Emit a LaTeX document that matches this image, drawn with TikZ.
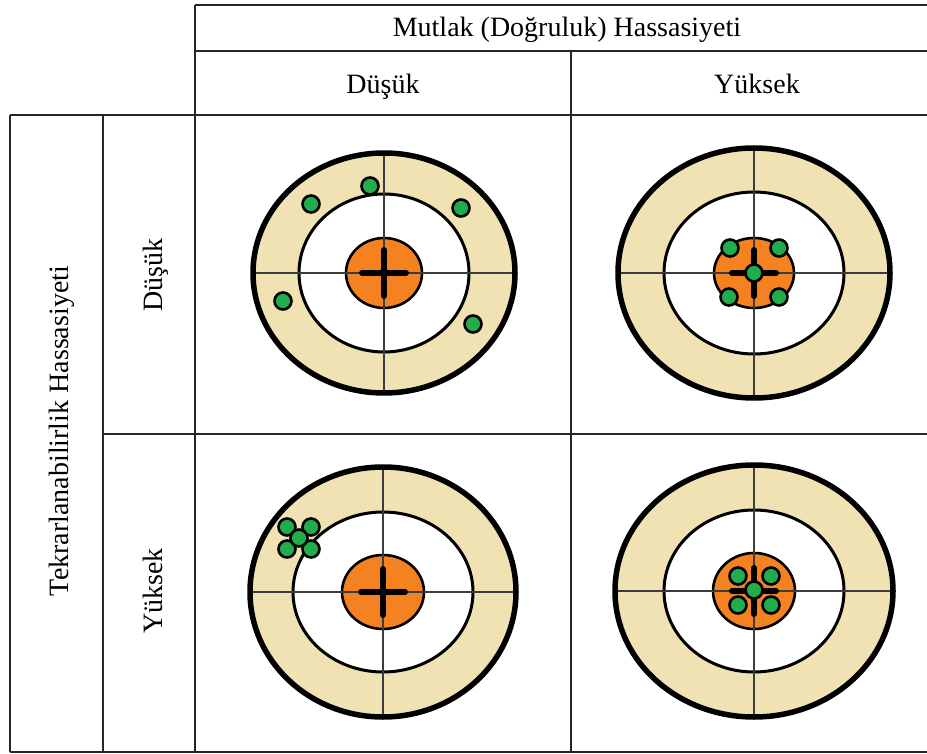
\documentclass[tikz,border=0pt]{standalone}
\usepackage{fontspec}
\setmainfont{Liberation Serif}
\definecolor{ringbeige}{RGB}{240,226,178}
\definecolor{bullorange}{RGB}{245,130,32}
\definecolor{hitgreen}{RGB}{34,172,76}
\definecolor{hairgray}{RGB}{60,60,60}
\tikzset{
  grid line/.style={line width=1.6pt, draw=black!85},
  lbl/.style={font=\fontsize{28}{33}\selectfont, inner sep=0pt, anchor=base},
  outerring/.style={fill=ringbeige, draw=black, line width=5pt},
  innerring/.style={fill=white, draw=black, line width=3pt},
  bull/.style={fill=bullorange, draw=black, line width=2.6pt},
  hair/.style={draw=hairgray, line width=1.5pt},
  crossbar/.style={draw=black, line width=6pt, line cap=round},
  hit/.style={fill=hitgreen, draw=black, line width=2.6pt}
}
\newcommand\tgt[8]{%
  \fill[ringbeige] (#1,#2) ellipse [x radius=#3, y radius=#4];
  \draw[innerring] (#1,#2) ellipse [x radius=#5, y radius=#6];
  \draw[bull] (#1,#2) ellipse [x radius=#7, y radius=#8];
  \draw[hair] (#1-#3,#2) -- (#1+#3,#2);
  \draw[hair] (#1,#2-#4) -- (#1,#2+#4);
  \draw[crossbar] (#1-22,#2) -- (#1+22,#2);
  \draw[crossbar] (#1,#2-23) -- (#1,#2+23);
  \draw[draw=black, line width=5.5pt] (#1,#2) ellipse [x radius=#3, y radius=#4];
}
\begin{document}
\begin{tikzpicture}[x=1pt,y=-1pt]
\useasboundingbox (0,0) rectangle (927,754);
\fill[white] (0,0) rectangle (927,754);
% grid
\draw[grid line] (195,5) -- (927,5);
\draw[grid line] (195,51) -- (927,51);
\draw[grid line] (10,115) -- (927,115);
\draw[grid line] (103,434) -- (927,434);
\draw[grid line] (10,752) -- (927,752);
\draw[grid line] (10,115) -- (10,752);
\draw[grid line] (103,115) -- (103,752);
\draw[grid line] (195,5) -- (195,752);
\draw[grid line] (571,51) -- (571,752);
% labels
\node[lbl] (mutlak) at (567,37) {Mutlak (Doğruluk) Hassasiyeti};
\node[lbl] (coldusuk) at (383,94) {Düşük};
\node[lbl] (colyuksek) at (757,94) {Yüksek};
\node[lbl, rotate=90] (tekrar) at (68,431) {Tekrarlanabilirlik Hassasiyeti};
\node[lbl, rotate=90] (rowdusuk) at (162,275) {Düşük};
\node[lbl, rotate=90] (rowyuksek) at (162,591) {Yüksek};
% targets
\tgt{384}{273}{131}{120}{85}{79}{38}{35}
\tgt{754}{273}{136}{125}{90}{81}{40}{35}
\tgt{383}{592}{133}{125}{90}{80}{41}{37}
\tgt{754}{591}{139}{126}{90}{81}{41}{38}
% hits, target 1
\draw[hit] (370,186) circle (8.5);
\draw[hit] (311,204) circle (8.5);
\draw[hit] (461,208) circle (8.5);
\draw[hit] (283,301) circle (8.5);
\draw[hit] (473,324) circle (8.5);
% hits, target 2
\draw[hit] (730,248) circle (8.5);
\draw[hit] (779,248) circle (8.5);
\draw[hit] (729,297) circle (8.5);
\draw[hit] (779,297) circle (8.5);
\draw[hit] (754,273) circle (8.5);
% hits, target 3
\draw[hit] (287,527) circle (8.5);
\draw[hit] (311,527) circle (8.5);
\draw[hit] (287,549) circle (8.5);
\draw[hit] (311,549) circle (8.5);
\draw[hit] (299,538) circle (8.5);
% hits, target 4
\draw[crossbar] (754,576) -- (754,606);
\draw[crossbar] (740,591) -- (768,591);
\draw[hit] (738,576) circle (8.5);
\draw[hit] (771,576) circle (8.5);
\draw[hit] (738,605) circle (8.5);
\draw[hit] (771,605) circle (8.5);
\draw[hit] (754,590) circle (8.5);
\end{tikzpicture}
\end{document}
